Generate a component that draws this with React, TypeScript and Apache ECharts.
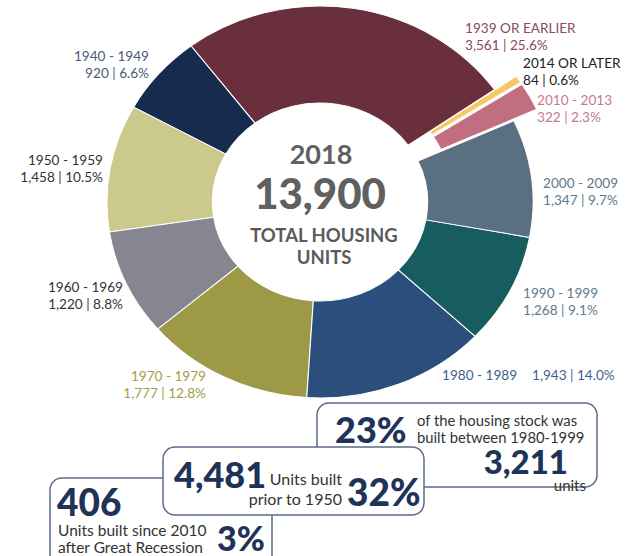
import React, { useEffect, useRef } from 'react';
import * as echarts from 'echarts';

// ---- data ----
const surveyYear = '2018';
const categories = [
  '1939 OR EARLIER', '1940 - 1949', '1950 - 1959', '1960 - 1969', '1970 - 1979',
  '1980 - 1989', '1990 - 1999', '2000 - 2009', '2010 - 2013', '2014 OR LATER',
];
const units = [3561, 920, 1458, 1220, 1777, 1943, 1268, 1347, 322, 84];
const explodedCategories = ['2010 - 2013', '2014 OR LATER'];
const prior1950Categories = ['1939 OR EARLIER', '1940 - 1949'];
const built1980to1999Categories = ['1980 - 1989', '1990 - 1999'];
const since2010Categories = ['2010 - 2013', '2014 OR LATER'];

// ---- styles ----
const sliceColors = ['#692f3d', '#172b4e', '#cbc98b', '#85868f', '#9e9946', '#2b4e7d', '#175c5f', '#5a7082', '#c26e81', '#f3c968'];
const labelColors = ['#8a4a5c', '#4a5c7a', '#333333', '#333333', '#a39d4b', '#3f5f8b', '#62798b', '#62798b', '#c47a8b', '#222222'];
// label anchor: x, y (centre of block), align
const labelLayout: [number, number, string][] = [
  [465, 36.5, 'left'], [149, 64.5, 'right'], [103, 168.5, 'right'], [123, 295.5, 'right'], [206, 384.5, 'right'],
  [442, 375, 'left'], [523, 301.5, 'left'], [543, 191.5, 'left'], [537, 108, 'left'], [523, 71.5, 'left'],
];
const FONT = 'Lato, "Noto Sans", sans-serif';
const LABEL_FONT = `13.6px ${FONT}`;
const NAVY = '#1e3357';
const BOX = '#5b6b87';
const STRETCH = 1.087;
const CX = 320;
const CY = 202;

const total = units.reduce((a, b) => a + b, 0);
const fmt = (v: number) => v.toLocaleString('en-US');
const pct1 = (v: number) => ((v / total) * 100).toFixed(1) + '%';
const pct0 = (v: number) => Math.round((v / total) * 100) + '%';
const sumOf = (cats: string[]) => cats.reduce((s, c) => s + units[categories.indexOf(c)], 0);

const txt = (x: number, y: number, text: string, font: string, fill: string, align = 'left', z = 2, extra: any = {}) => ({
  type: 'text', z, x, y,
  style: { text, font, fill, textAlign: align, textVerticalAlign: 'middle', ...extra },
});

export default function App() {
  const pieRef = useRef<HTMLDivElement>(null);
  const overRef = useRef<HTMLDivElement>(null);

  useEffect(() => {
    const pie = echarts.init(pieRef.current!, null, { renderer: 'svg' });
    pie.setOption({
      animation: false,
      series: [
        {
          type: 'pie',
          silent: true,
          center: [CX, CY],
          radius: [99, 196],
          startAngle: 35,
          clockwise: false,
          selectedMode: 'multiple',
          selectedOffset: 24,
          label: { show: false },
          labelLine: { show: false },
          emphasis: { disabled: true },
          itemStyle: { borderColor: '#ffffff', borderWidth: 1 },
          data: categories.map((c, i) => ({
            name: c,
            value: units[i],
            selected: explodedCategories.includes(c),
            itemStyle: { color: sliceColors[i] },
            select: { itemStyle: { color: sliceColors[i], borderColor: '#ffffff', borderWidth: 1 } },
          })),
        },
      ],
    });

    const over = echarts.init(overRef.current!, null, { renderer: 'svg' });
    const elements: any[] = [];
    categories.forEach((c, i) => {
      const [x, y, align] = labelLayout[i];
      const color = labelColors[i];
      if (c === '1980 - 1989') {
        elements.push(txt(x, y, c, LABEL_FONT, color));
        elements.push(txt(532, y, `${fmt(units[i])} | ${pct1(units[i])}`, LABEL_FONT, color));
      } else {
        elements.push(txt(x, y, `${c}\n${fmt(units[i])} | ${pct1(units[i])}`, LABEL_FONT, color, align, 2, { lineHeight: 17 }));
      }
    });
    // centre
    elements.push(txt(321, 153, surveyYear, `bold 27px ${FONT}`, '#606060', 'center'));
    elements.push(txt(320, 193, fmt(total), `900 42px ${FONT}`, '#606060', 'center'));
    elements.push(txt(324, 235, 'TOTAL HOUSING', `bold 18.5px ${FONT}`, '#5a5a5a', 'center'));
    elements.push(txt(324, 257, 'UNITS', `bold 18.5px ${FONT}`, '#5a5a5a', 'center'));

    const b1980 = sumOf(built1980to1999Categories);
    const bPrior = sumOf(prior1950Categories);
    const bSince = sumOf(since2010Categories);

    // box 1
    elements.push({ type: 'rect', z: 1, shape: { x: 317, y: 403, width: 280, height: 84, r: 12 }, style: { fill: '#fff', stroke: BOX, lineWidth: 1.5 } });
    elements.push(txt(335, 429, pct0(b1980), `900 36px ${FONT}`, NAVY));
    elements.push(txt(417, 419.5, 'of the housing stock was', `14.8px ${FONT}`, '#333'));
    elements.push(txt(417, 437, 'built between 1980-1999', `14.8px ${FONT}`, '#333'));
    elements.push(txt(568, 461, fmt(b1980), `900 33px ${FONT}`, NAVY, 'right'));
    elements.push(txt(586, 485, 'units', `15px ${FONT}`, '#333', 'right'));

    // box 3
    elements.push({ type: 'rect', z: 1, shape: { x: 50, y: 478, width: 222, height: 100, r: 12 }, style: { fill: '#fff', stroke: BOX, lineWidth: 1.5 } });
    elements.push(txt(57, 501, fmt(bSince), `900 37px ${FONT}`, NAVY));
    elements.push(txt(58, 529.5, 'Units built since 2010', `15.5px ${FONT}`, '#333'));
    elements.push(txt(58, 547, 'after Great Recession', `15.5px ${FONT}`, '#333'));
    elements.push(txt(217, 537, pct0(bSince), `900 34px ${FONT}`, NAVY));

    // box 2 (on top)
    elements.push({ type: 'rect', z: 5, shape: { x: 163, y: 447, width: 261, height: 68, r: 12 }, style: { fill: '#fff', stroke: BOX, lineWidth: 1.5 } });
    elements.push(txt(174, 474, fmt(bPrior), `900 36px ${FONT}`, NAVY, 'left', 6));
    elements.push(txt(342, 478, 'Units built', `16px ${FONT}`, '#333', 'right', 6));
    elements.push(txt(342, 498, 'prior to 1950', `16px ${FONT}`, '#333', 'right', 6));
    elements.push(txt(347, 491, pct0(bPrior), `900 37px ${FONT}`, NAVY, 'left', 6));

    over.setOption({ animation: false, graphic: { elements } });

    return () => {
      pie.dispose();
      over.dispose();
    };
  }, []);

  return (
    <div style={{ position: 'fixed', left: 0, top: 0, width: 628, height: 556, overflow: 'hidden', background: '#fff' }}>
      <div
        ref={pieRef}
        style={{ position: 'absolute', left: 0, top: 0, width: 628, height: 556, transform: `scaleX(${STRETCH})`, transformOrigin: `${CX}px ${CY}px` }}
      />
      <div ref={overRef} style={{ position: 'absolute', left: 0, top: 0, width: 628, height: 556 }} />
    </div>
  );
}
